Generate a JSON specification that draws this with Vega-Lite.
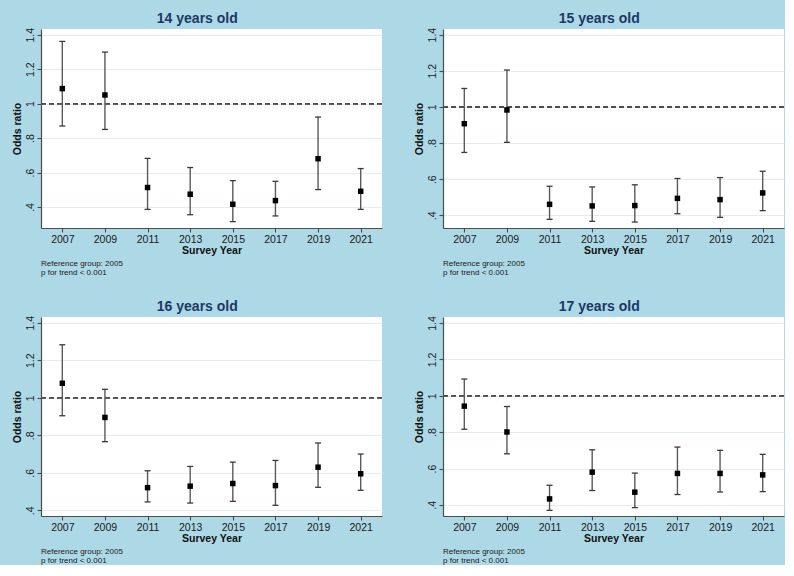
{
  "$schema": "https://vega.github.io/schema/vega-lite/v6.json",
  "background": "#add8e6",
  "padding": {"left": 12, "top": 11, "right": 0, "bottom": 0},
  "datasets": {
    "or": [
      {"age": 14, "year": 2007, "or": 1.087, "lo": 0.870, "hi": 1.361},
      {"age": 14, "year": 2009, "or": 1.050, "lo": 0.850, "hi": 1.299},
      {"age": 14, "year": 2011, "or": 0.513, "lo": 0.386, "hi": 0.682},
      {"age": 14, "year": 2013, "or": 0.474, "lo": 0.355, "hi": 0.629},
      {"age": 14, "year": 2015, "or": 0.416, "lo": 0.315, "hi": 0.553},
      {"age": 14, "year": 2017, "or": 0.437, "lo": 0.348, "hi": 0.549},
      {"age": 14, "year": 2019, "or": 0.680, "lo": 0.501, "hi": 0.922},
      {"age": 14, "year": 2021, "or": 0.491, "lo": 0.386, "hi": 0.623},
      {"age": 15, "year": 2007, "or": 0.907, "lo": 0.748, "hi": 1.102},
      {"age": 15, "year": 2009, "or": 0.983, "lo": 0.804, "hi": 1.204},
      {"age": 15, "year": 2011, "or": 0.461, "lo": 0.378, "hi": 0.561},
      {"age": 15, "year": 2013, "or": 0.452, "lo": 0.367, "hi": 0.557},
      {"age": 15, "year": 2015, "or": 0.454, "lo": 0.363, "hi": 0.569},
      {"age": 15, "year": 2017, "or": 0.494, "lo": 0.409, "hi": 0.604},
      {"age": 15, "year": 2019, "or": 0.487, "lo": 0.389, "hi": 0.609},
      {"age": 15, "year": 2021, "or": 0.524, "lo": 0.426, "hi": 0.644},
      {"age": 16, "year": 2007, "or": 1.077, "lo": 0.904, "hi": 1.282},
      {"age": 16, "year": 2009, "or": 0.895, "lo": 0.766, "hi": 1.045},
      {"age": 16, "year": 2011, "or": 0.521, "lo": 0.445, "hi": 0.611},
      {"age": 16, "year": 2013, "or": 0.529, "lo": 0.439, "hi": 0.634},
      {"age": 16, "year": 2015, "or": 0.543, "lo": 0.448, "hi": 0.657},
      {"age": 16, "year": 2017, "or": 0.532, "lo": 0.427, "hi": 0.666},
      {"age": 16, "year": 2019, "or": 0.630, "lo": 0.523, "hi": 0.759},
      {"age": 16, "year": 2021, "or": 0.595, "lo": 0.507, "hi": 0.700},
      {"age": 17, "year": 2007, "or": 0.943, "lo": 0.816, "hi": 1.092},
      {"age": 17, "year": 2009, "or": 0.801, "lo": 0.681, "hi": 0.941},
      {"age": 17, "year": 2011, "or": 0.433, "lo": 0.370, "hi": 0.508},
      {"age": 17, "year": 2013, "or": 0.580, "lo": 0.479, "hi": 0.703},
      {"age": 17, "year": 2015, "or": 0.470, "lo": 0.385, "hi": 0.575},
      {"age": 17, "year": 2017, "or": 0.573, "lo": 0.457, "hi": 0.718},
      {"age": 17, "year": 2019, "or": 0.573, "lo": 0.471, "hi": 0.700},
      {"age": 17, "year": 2021, "or": 0.565, "lo": 0.473, "hi": 0.678}
    ]
  },
  "config": {
    "font": "Liberation Sans",
    "view": {"fill": "white", "stroke": null},
    "title": {"font": "Liberation Sans", "fontSize": 14, "fontWeight": "bold", "color": "#1c3866", "offset": 1.5},
    "axis": {
      "labelFont": "Liberation Sans", "labelFontSize": 10.5, "labelColor": "#1a1a1a",
      "titleFont": "Liberation Sans", "titleFontSize": 10.5, "titleFontWeight": "bold", "titleColor": "#111111",
      "domainColor": "#4d4d4d", "domainWidth": 1.2, "tickColor": "#4d4d4d", "tickWidth": 1.1, "tickSize": 4,
      "labelPadding": 2, "grid": false, "labelOverlap": false
    },
    "axisX": {"titlePadding": 1},
    "axisY": {"labelAngle": -90, "labelAlign": "center", "labelBaseline": "bottom", "titlePadding": 3, "grid": true, "gridColor": "#e3edf1", "gridWidth": 1, "labelOverlap": false},
    "concat": {"spacing": 0}
  },
  "spacing": 22,
  "vconcat": [
    {
      "spacing": 31,
      "hconcat": [
        {
          "title": {"text": "14 years old", "anchor": "middle"},
          "vconcat": [
            {
              "width": 341, "height": 199,
              "title": {"text": "Reference group: 2005", "subtitle": "p for trend < 0.001", "orient": "bottom", "anchor": "start", "frame": "group", "fontSize": 8, "fontWeight": "normal", "color": "#1a1a1a", "subtitleFont": "Liberation Sans", "subtitleFontSize": 8, "subtitleColor": "#1a1a1a", "subtitlePadding": 1, "offset": 4},
              "data": {"name": "or"},
              "transform": [{"filter": "datum.age == 14"}],
              "layer": [
                {"mark": {"type": "rule", "strokeDash": [5, 3], "color": "#505050", "strokeWidth": 1.2},
                 "encoding": {"y": {"datum": 1, "type": "quantitative", "title": "Odds ratio", "scale": {"domain": [0.278, 1.433], "nice": false, "zero": false}, "axis": {"values": [0.4, 0.6, 0.8, 1, 1.2, 1.4], "tickCount": 20, "labelOverlap": false, "labelExpr": "replace(format(datum.value, '.1~f'), '0.', '.')"}}}},
                {"mark": {"type": "rule", "color": "#5a5a5a", "strokeWidth": 1.4},
                 "encoding": {
                   "x": {"field": "year", "type": "quantitative", "title": "Survey Year", "scale": {"domain": [2006, 2022], "nice": false, "zero": false}, "axis": {"values": [2007, 2009, 2011, 2013, 2015, 2017, 2019, 2021], "tickCount": 20, "format": "d", "labelOverlap": false}},
                   "y": {"field": "lo", "type": "quantitative", "title": "Odds ratio", "scale": {"domain": [0.278, 1.433], "nice": false, "zero": false}, "axis": {"values": [0.4, 0.6, 0.8, 1, 1.2, 1.4], "tickCount": 20, "labelOverlap": false, "labelExpr": "replace(format(datum.value, '.1~f'), '0.', '.')"}},
                   "y2": {"field": "hi"}}},
                {"mark": {"type": "tick", "orient": "horizontal", "size": 6, "thickness": 1.3, "color": "#3a3a3a", "opacity": 1},
                 "encoding": {"x": {"field": "year", "type": "quantitative", "title": "Survey Year"}, "y": {"field": "lo", "type": "quantitative", "title": "Odds ratio"}}},
                {"mark": {"type": "tick", "orient": "horizontal", "size": 6, "thickness": 1.3, "color": "#3a3a3a", "opacity": 1},
                 "encoding": {"x": {"field": "year", "type": "quantitative", "title": "Survey Year"}, "y": {"field": "hi", "type": "quantitative", "title": "Odds ratio"}}},
                {"mark": {"type": "square", "filled": true, "color": "#000000", "size": 30, "opacity": 1},
                 "encoding": {"x": {"field": "year", "type": "quantitative", "title": "Survey Year"}, "y": {"field": "or", "type": "quantitative", "title": "Odds ratio"}}}
              ]
            }
          ]
        },
        {
          "title": {"text": "15 years old", "anchor": "middle"},
          "vconcat": [
            {
              "width": 341, "height": 199,
              "title": {"text": "Reference group: 2005", "subtitle": "p for trend < 0.001", "orient": "bottom", "anchor": "start", "frame": "group", "fontSize": 8, "fontWeight": "normal", "color": "#1a1a1a", "subtitleFont": "Liberation Sans", "subtitleFontSize": 8, "subtitleColor": "#1a1a1a", "subtitlePadding": 1, "offset": 4},
              "data": {"name": "or"},
              "transform": [{"filter": "datum.age == 15"}],
              "layer": [
                {"mark": {"type": "rule", "strokeDash": [5, 3], "color": "#505050", "strokeWidth": 1.2},
                 "encoding": {"y": {"datum": 1, "type": "quantitative", "title": "Odds ratio", "scale": {"domain": [0.330, 1.431], "nice": false, "zero": false}, "axis": {"values": [0.4, 0.6, 0.8, 1, 1.2, 1.4], "tickCount": 20, "labelOverlap": false, "labelExpr": "replace(format(datum.value, '.1~f'), '0.', '.')"}}}},
                {"mark": {"type": "rule", "color": "#5a5a5a", "strokeWidth": 1.4},
                 "encoding": {
                   "x": {"field": "year", "type": "quantitative", "title": "Survey Year", "scale": {"domain": [2006, 2022], "nice": false, "zero": false}, "axis": {"values": [2007, 2009, 2011, 2013, 2015, 2017, 2019, 2021], "tickCount": 20, "format": "d", "labelOverlap": false}},
                   "y": {"field": "lo", "type": "quantitative", "title": "Odds ratio", "scale": {"domain": [0.330, 1.431], "nice": false, "zero": false}, "axis": {"values": [0.4, 0.6, 0.8, 1, 1.2, 1.4], "tickCount": 20, "labelOverlap": false, "labelExpr": "replace(format(datum.value, '.1~f'), '0.', '.')"}},
                   "y2": {"field": "hi"}}},
                {"mark": {"type": "tick", "orient": "horizontal", "size": 6, "thickness": 1.3, "color": "#3a3a3a", "opacity": 1},
                 "encoding": {"x": {"field": "year", "type": "quantitative", "title": "Survey Year"}, "y": {"field": "lo", "type": "quantitative", "title": "Odds ratio"}}},
                {"mark": {"type": "tick", "orient": "horizontal", "size": 6, "thickness": 1.3, "color": "#3a3a3a", "opacity": 1},
                 "encoding": {"x": {"field": "year", "type": "quantitative", "title": "Survey Year"}, "y": {"field": "hi", "type": "quantitative", "title": "Odds ratio"}}},
                {"mark": {"type": "square", "filled": true, "color": "#000000", "size": 30, "opacity": 1},
                 "encoding": {"x": {"field": "year", "type": "quantitative", "title": "Survey Year"}, "y": {"field": "or", "type": "quantitative", "title": "Odds ratio"}}}
              ]
            }
          ]
        }
      ]
    },
    {
      "spacing": 31,
      "hconcat": [
        {
          "title": {"text": "16 years old", "anchor": "middle"},
          "vconcat": [
            {
              "width": 341, "height": 199,
              "title": {"text": "Reference group: 2005", "subtitle": "p for trend < 0.001", "orient": "bottom", "anchor": "start", "frame": "group", "fontSize": 8, "fontWeight": "normal", "color": "#1a1a1a", "subtitleFont": "Liberation Sans", "subtitleFontSize": 8, "subtitleColor": "#1a1a1a", "subtitlePadding": 1, "offset": 4},
              "data": {"name": "or"},
              "transform": [{"filter": "datum.age == 16"}],
              "layer": [
                {"mark": {"type": "rule", "strokeDash": [5, 3], "color": "#505050", "strokeWidth": 1.2},
                 "encoding": {"y": {"datum": 1, "type": "quantitative", "title": "Odds ratio", "scale": {"domain": [0.370, 1.430], "nice": false, "zero": false}, "axis": {"values": [0.4, 0.6, 0.8, 1, 1.2, 1.4], "tickCount": 20, "labelOverlap": false, "labelExpr": "replace(format(datum.value, '.1~f'), '0.', '.')"}}}},
                {"mark": {"type": "rule", "color": "#5a5a5a", "strokeWidth": 1.4},
                 "encoding": {
                   "x": {"field": "year", "type": "quantitative", "title": "Survey Year", "scale": {"domain": [2006, 2022], "nice": false, "zero": false}, "axis": {"values": [2007, 2009, 2011, 2013, 2015, 2017, 2019, 2021], "tickCount": 20, "format": "d", "labelOverlap": false}},
                   "y": {"field": "lo", "type": "quantitative", "title": "Odds ratio", "scale": {"domain": [0.370, 1.430], "nice": false, "zero": false}, "axis": {"values": [0.4, 0.6, 0.8, 1, 1.2, 1.4], "tickCount": 20, "labelOverlap": false, "labelExpr": "replace(format(datum.value, '.1~f'), '0.', '.')"}},
                   "y2": {"field": "hi"}}},
                {"mark": {"type": "tick", "orient": "horizontal", "size": 6, "thickness": 1.3, "color": "#3a3a3a", "opacity": 1},
                 "encoding": {"x": {"field": "year", "type": "quantitative", "title": "Survey Year"}, "y": {"field": "lo", "type": "quantitative", "title": "Odds ratio"}}},
                {"mark": {"type": "tick", "orient": "horizontal", "size": 6, "thickness": 1.3, "color": "#3a3a3a", "opacity": 1},
                 "encoding": {"x": {"field": "year", "type": "quantitative", "title": "Survey Year"}, "y": {"field": "hi", "type": "quantitative", "title": "Odds ratio"}}},
                {"mark": {"type": "square", "filled": true, "color": "#000000", "size": 30, "opacity": 1},
                 "encoding": {"x": {"field": "year", "type": "quantitative", "title": "Survey Year"}, "y": {"field": "or", "type": "quantitative", "title": "Odds ratio"}}}
              ]
            }
          ]
        },
        {
          "title": {"text": "17 years old", "anchor": "middle"},
          "vconcat": [
            {
              "width": 341, "height": 199,
              "title": {"text": "Reference group: 2005", "subtitle": "p for trend < 0.001", "orient": "bottom", "anchor": "start", "frame": "group", "fontSize": 8, "fontWeight": "normal", "color": "#1a1a1a", "subtitleFont": "Liberation Sans", "subtitleFontSize": 8, "subtitleColor": "#1a1a1a", "subtitlePadding": 1, "offset": 4},
              "data": {"name": "or"},
              "transform": [{"filter": "datum.age == 17"}],
              "layer": [
                {"mark": {"type": "rule", "strokeDash": [5, 3], "color": "#505050", "strokeWidth": 1.2},
                 "encoding": {"y": {"datum": 1, "type": "quantitative", "title": "Odds ratio", "scale": {"domain": [0.339, 1.433], "nice": false, "zero": false}, "axis": {"values": [0.4, 0.6, 0.8, 1, 1.2, 1.4], "tickCount": 20, "labelOverlap": false, "labelExpr": "replace(format(datum.value, '.1~f'), '0.', '.')"}}}},
                {"mark": {"type": "rule", "color": "#5a5a5a", "strokeWidth": 1.4},
                 "encoding": {
                   "x": {"field": "year", "type": "quantitative", "title": "Survey Year", "scale": {"domain": [2006, 2022], "nice": false, "zero": false}, "axis": {"values": [2007, 2009, 2011, 2013, 2015, 2017, 2019, 2021], "tickCount": 20, "format": "d", "labelOverlap": false}},
                   "y": {"field": "lo", "type": "quantitative", "title": "Odds ratio", "scale": {"domain": [0.339, 1.433], "nice": false, "zero": false}, "axis": {"values": [0.4, 0.6, 0.8, 1, 1.2, 1.4], "tickCount": 20, "labelOverlap": false, "labelExpr": "replace(format(datum.value, '.1~f'), '0.', '.')"}},
                   "y2": {"field": "hi"}}},
                {"mark": {"type": "tick", "orient": "horizontal", "size": 6, "thickness": 1.3, "color": "#3a3a3a", "opacity": 1},
                 "encoding": {"x": {"field": "year", "type": "quantitative", "title": "Survey Year"}, "y": {"field": "lo", "type": "quantitative", "title": "Odds ratio"}}},
                {"mark": {"type": "tick", "orient": "horizontal", "size": 6, "thickness": 1.3, "color": "#3a3a3a", "opacity": 1},
                 "encoding": {"x": {"field": "year", "type": "quantitative", "title": "Survey Year"}, "y": {"field": "hi", "type": "quantitative", "title": "Odds ratio"}}},
                {"mark": {"type": "square", "filled": true, "color": "#000000", "size": 30, "opacity": 1},
                 "encoding": {"x": {"field": "year", "type": "quantitative", "title": "Survey Year"}, "y": {"field": "or", "type": "quantitative", "title": "Odds ratio"}}}
              ]
            }
          ]
        }
      ]
    }
  ]
}
